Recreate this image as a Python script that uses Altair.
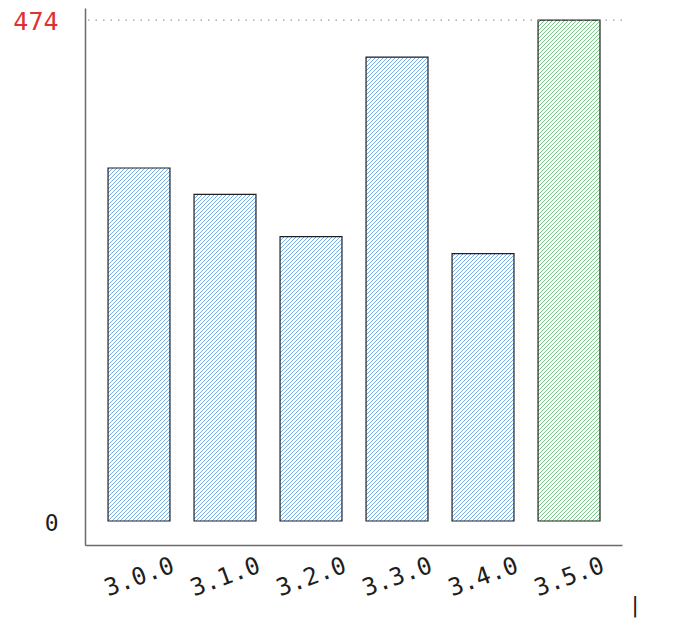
import json
import altair as alt
import pandas as pd

# ---- data ----
versions = ["3.0.0", "3.1.0", "3.2.0", "3.3.0", "3.4.0", "3.5.0"]
values = [334, 309, 269, 439, 253, 474]

# ---- styling / layout ----
BLUE = "#3d8ae0"
GREEN = "#3fae57"
RED = "#e03131"
INK = "#1e1e1e"
AXIS = "#6b6b6b"
FONT = "DejaVu Sans Mono"

W, H = 537, 537
X_DOMAIN = [-0.628, 5.616]
Y_DOMAIN = [-22.7, 485.4]
BAR_HALF = 0.36

px_x = W / (X_DOMAIN[1] - X_DOMAIN[0])
px_y = H / (Y_DOMAIN[1] - Y_DOMAIN[0])

top = max(values)
bars = pd.DataFrame({"i": list(range(len(versions))), "version": versions, "value": values})
bars["x0"] = bars["i"] - BAR_HALF
bars["x1"] = bars["i"] + BAR_HALF
bars["grp"] = ["top" if v == top else "base" for v in values]

# hachure fill derived from each bar's extent (data units through the scales)
GAP = 4.0     # horizontal spacing in px
SLOPE = 1.0   # 45 degrees
bottom_px = Y_DOMAIN[1] * px_y
rows = []
for i, v, g in zip(bars["i"], bars["value"], bars["grp"]):
    left_px = (i - BAR_HALF - X_DOMAIN[0]) * px_x
    bw = 2 * BAR_HALF * px_x
    bh = v * px_y
    c = -bh * SLOPE
    # align the hatch phase to the pixel grid so all bars share one pattern
    phase = (left_px + c + bottom_px) % GAP
    c += (GAP - phase)
    while c < bw:
        v0 = max(0.0, -c / SLOPE)
        v1 = min(bh, (bw - c) / SLOPE)
        if v1 - v0 > 0.5:
            u0 = c + v0 * SLOPE
            u1 = c + v1 * SLOPE
            rows.append({
                "hx": i - BAR_HALF + u0 / px_x,
                "hx2": i - BAR_HALF + u1 / px_x,
                "hy": v0 / px_y,
                "hy2": v1 / px_y,
                "grp": g,
            })
        c += GAP
hatch = pd.DataFrame(rows)

xscale = alt.Scale(domain=X_DOMAIN, nice=False, zero=False)
yscale = alt.Scale(domain=Y_DOMAIN, nice=False, zero=False)

x_axis = alt.Axis(
    values=list(range(len(versions))),
    labelExpr=f"{json.dumps(versions)}[datum.value]",
    title=None, grid=False, ticks=False,
    domainColor=AXIS, domainWidth=1.5,
    labelAngle=-20, labelAlign="center", labelBaseline="middle",
    labelPadding=32, labelFont=FONT, labelFontSize=24, labelColor=INK,
    labelOverlap=False, labelFlush=False,
)
y_axis = alt.Axis(
    values=[0, top],
    title=None, grid=False, ticks=False,
    domainColor=AXIS, domainWidth=1.5,
    labelPadding=27, labelFont=FONT,
    labelBaseline="alphabetic", labelOffset=9,
    labelFontSize={"condition": {"test": f"datum.value === {top}", "value": 25}, "value": 23},
    labelColor={"condition": {"test": f"datum.value === {top}", "value": RED}, "value": INK},
)

color = alt.Color("grp:N", scale=alt.Scale(domain=["base", "top"], range=[BLUE, GREEN]), legend=None)

fill = alt.Chart(bars).mark_bar(fill="white", stroke=None).encode(
    x=alt.X("x0:Q", scale=xscale, axis=x_axis),
    x2="x1:Q",
    y=alt.Y("value:Q", scale=yscale, axis=y_axis),
    y2=alt.datum(0),
)

lines = alt.Chart(hatch).mark_rule(strokeWidth=1, opacity=0.7).encode(
    x=alt.X("hx:Q", scale=xscale, axis=x_axis),
    x2="hx2:Q",
    y=alt.Y("hy:Q", scale=yscale, axis=y_axis),
    y2="hy2:Q",
    color=color,
)

outline = alt.Chart(bars).mark_bar(fillOpacity=0, stroke=INK, strokeWidth=1.2).encode(
    x=alt.X("x0:Q", scale=xscale, axis=x_axis),
    x2="x1:Q",
    y=alt.Y("value:Q", scale=yscale, axis=y_axis),
    y2=alt.datum(0),
)

ref = alt.Chart(pd.DataFrame({"v": [top]})).mark_rule(
    color="#9a9a9a", strokeDash=[1.5, 6], strokeWidth=1.2
).encode(y=alt.Y("v:Q", scale=yscale, axis=y_axis))

# y-axis line continues to the very top of the page
axis_top = alt.Chart(pd.DataFrame({"t": [0]})).mark_rule(color=AXIS, strokeWidth=1.5).encode(
    x=alt.value(0), y=alt.value(-8), y2=alt.value(0)
)

caret = alt.Chart(pd.DataFrame({"t": ["|"]})).mark_text(
    font=FONT, fontSize=22, color=INK, align="center", baseline="middle"
).encode(text="t:N", x=alt.value(550), y=alt.value(597))

chart = alt.layer(fill, lines, outline, ref, axis_top, caret).properties(
    width=W, height=H,
    autosize=alt.AutoSizeParams(type="none"),
    padding={"left": 77, "top": 0, "right": 60, "bottom": 77},
    background="white",
).configure_view(stroke=None)

chart.save("out.html", embed_options={"renderer": "svg", "actions": False})
